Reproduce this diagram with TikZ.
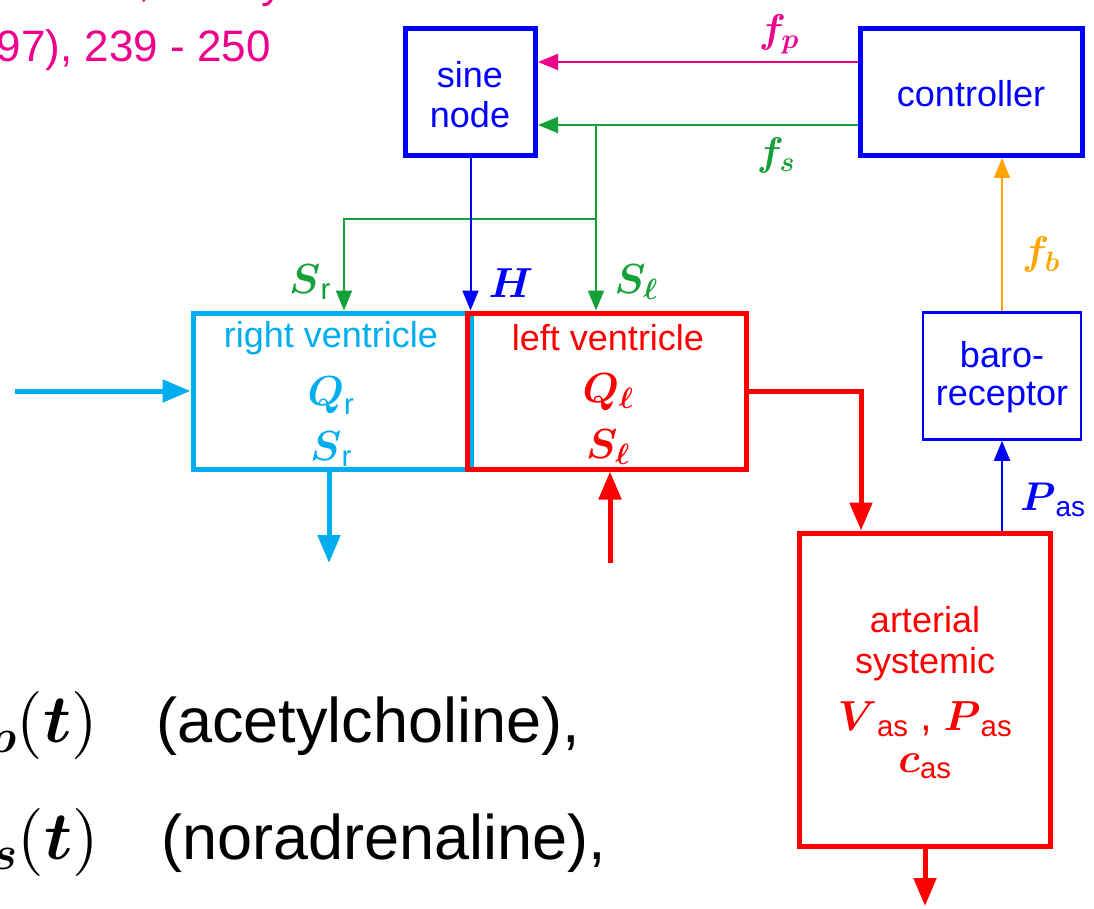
\documentclass[tikz,border=0pt]{standalone}
\usepackage{amsmath,amssymb}
\usepackage[no-math]{fontspec}
\setmainfont{Liberation Sans}
\usetikzlibrary{arrows.meta}

% freely scalable Computer Modern math fonts
\DeclareFontShape{OML}{cmm}{m}{it}{<->cmmi10}{}
\DeclareFontShape{OML}{cmm}{b}{it}{<->cmmib10}{}
\DeclareFontShape{OMS}{cmsy}{m}{n}{<->cmsy10}{}
\DeclareFontShape{OMS}{cmsy}{b}{n}{<->cmbsy10}{}
\DeclareFontShape{OT1}{cmr}{m}{n}{<->cmr10}{}
\DeclareFontShape{OT1}{cmr}{bx}{n}{<->cmbx10}{}
\DeclareFontShape{OMX}{cmex}{m}{n}{<->cmex10}{}

\definecolor{cyanf}{RGB}{0,174,239}
\definecolor{redf}{RGB}{255,0,0}
\definecolor{bluef}{RGB}{0,0,255}
\definecolor{greenf}{RGB}{22,160,56}
\definecolor{magf}{RGB}{236,0,140}
\definecolor{orangef}{RGB}{255,165,0}

\begin{document}
\begin{tikzpicture}[x=1pt,y=-1pt,
  block/.style={draw, line width=5pt, inner sep=0pt},
  thinblock/.style={draw, line width=2.5pt, inner sep=0pt},
  heavy/.style={line width=5pt},
  light/.style={line width=2pt},
  tipS/.style={-{Triangle[length=20pt,width=16pt]}},
  tipL/.style={-{Triangle[length=28pt,width=22pt]}},
  txt/.style={font=\fontsize{36}{40}\selectfont, inner sep=0pt, anchor=base},
  mth/.style={font=\fontsize{42}{46}\selectfont, inner sep=0pt, anchor=base},
  lbl/.style={font=\fontsize{42}{46}\selectfont, inner sep=0pt},
  slbl/.style={font=\fontsize{40}{44}\selectfont, inner sep=0pt}]

\useasboundingbox (0,0) rectangle (1094,909);
\clip (0,0) rectangle (1094,909);

% citation fragment, top left
\node[anchor=base, text=magf, font=\fontsize{44}{48}\selectfont, inner sep=0pt] (citeA) at (145,-3) {,};
\node[anchor=base, text=magf, font=\fontsize{44}{48}\selectfont, inner sep=0pt] (citeB) at (272,-2) {y};
\node[anchor=base east, text=magf, font=\fontsize{44}{48}\selectfont, inner sep=0pt] (cite) at (271,62) {97), 239 - 250};

% blocks
\node[block, draw=bluef, minimum width=130pt, minimum height=127pt] (sine) at (470.5,92) {};
\node[block, draw=bluef, minimum width=222pt, minimum height=127pt] (ctrl) at (971,92) {};
\node[block, draw=cyanf, minimum width=278pt, minimum height=156pt] (rv) at (332,391) {};
\node[block, draw=redf, minimum width=279pt, minimum height=156pt] (lv) at (606.5,391) {};
\node[thinblock, draw=bluef, minimum width=158pt, minimum height=127pt] (baro) at (1002,376) {};
\node[block, draw=redf, minimum width=251pt, minimum height=313pt] (art) at (924.5,689.5) {};

% block texts
\node[txt, text=bluef] (sineA) at (470,88) {sine};
\node[txt, text=bluef] (sineB) at (470,128) {node};
\node[txt, text=bluef] (ctrlT) at (971,107) {controller};
\node[txt, text=cyanf] (rvT) at (331,347) {right ventricle};
\node[mth, text=cyanf] (rvQ) at (331,405) {$\boldsymbol{Q}_{\text{r}}$};
\node[mth, text=cyanf] (rvS) at (331,460) {$\boldsymbol{S}_{\text{r}}$};
\node[txt, text=redf] (lvT) at (608,350) {left ventricle};
\node[mth, text=redf] (lvQ) at (608,402) {$\boldsymbol{Q_\ell}$};
\node[mth, text=redf] (lvS) at (608,458) {$\boldsymbol{S_\ell}$};
\node[txt, text=bluef] (baroA) at (1002,367) {baro-};
\node[txt, text=bluef] (baroB) at (1002,405) {receptor};
\node[txt, text=redf] (artA) at (925,632) {arterial};
\node[txt, text=redf] (artB) at (925,673) {systemic};
\node[mth, text=redf] (artC) at (925,730) {$\boldsymbol{V}_{\text{as}}$ , $\boldsymbol{P}_{\text{as}}$};
\node[mth, text=redf] (artD) at (925,772) {$\boldsymbol{c}_{\text{as}}$};

% control signals
\draw[light, magf, tipS] ([yshift=30pt]ctrl.west) -- ([yshift=30pt]sine.east);
\draw[light, greenf, tipS] ([yshift=-33pt]ctrl.west) -- ([yshift=-33pt]sine.east);
\coordinate (gtop) at (596,125);
\coordinate (gmid) at (596,219);
\coordinate (gleft) at (344,219);
\draw[light, greenf, tipS] (gtop) -- (gtop |- lv.north);
\draw[light, greenf, tipS] (gmid) -- (gleft) -- (gleft |- rv.north);
\draw[light, bluef, tipS] (sine.south) -- (sine.south |- rv.north);
\draw[light, bluef, tipS] (art.north -| baro.south) -- (baro.south);
\draw[light, orangef, tipS] (baro.north) -- (baro.north |- ctrl.south);

% blood flow
\coordinate (rin) at (15,391);
\coordinate (rout) at (329,563);
\coordinate (lin) at (610,563);
\coordinate (aknee) at (861,391);
\coordinate (aout) at (925,906);
\draw[heavy, cyanf, tipL] (rin) -- (rv.west);
\draw[heavy, cyanf, tipL] (rv.south -| rout) -- (rout);
\draw[heavy, redf, tipL] (lin) -- (lin |- lv.south);
\draw[heavy, redf, tipL] (lv.east) -- (aknee) -- (aknee |- art.north);
\draw[heavy, redf, tipL] (art.south -| aout) -- (aout);

% signal labels
\node[slbl, text=magf] (fpL) at (779,34) {$\boldsymbol{f_p}$};
\node[slbl, text=greenf] (fsL) at (776,156) {$\boldsymbol{f_s}$};
\node[slbl, text=orangef] (fbL) at (1041,255) {$\boldsymbol{f_b}$};
\node[lbl, text=greenf] (srL) at (310,282) {$\boldsymbol{S}_{\text{r}}$};
\node[lbl, text=bluef] (hL) at (511,283) {$\boldsymbol{H}$};
\node[lbl, text=greenf] (slL) at (636,282) {$\boldsymbol{S_\ell}$};
\node[slbl, text=bluef] (pL) at (1053,500) {$\boldsymbol{P}_{\text{as}}$};

% transmitter lines, bottom left
\node[anchor=base east, font=\fontsize{68}{72}\selectfont, inner sep=0pt] (cp) at (98,742) {${}_{\boldsymbol{p}}(\boldsymbol{t})$};
\node[anchor=base east, font=\fontsize{68}{72}\selectfont, inner sep=0pt] (cs) at (99,859) {${}_{\boldsymbol{s}}(\boldsymbol{t})$};
\node[anchor=base west, font=\fontsize{63}{70}\selectfont, inner sep=0pt] (ach) at (156,742) {(acetylcholine),};
\node[anchor=base west, font=\fontsize{63}{70}\selectfont, inner sep=0pt] (nor) at (161,859) {(noradrenaline),};
\end{tikzpicture}
\end{document}
